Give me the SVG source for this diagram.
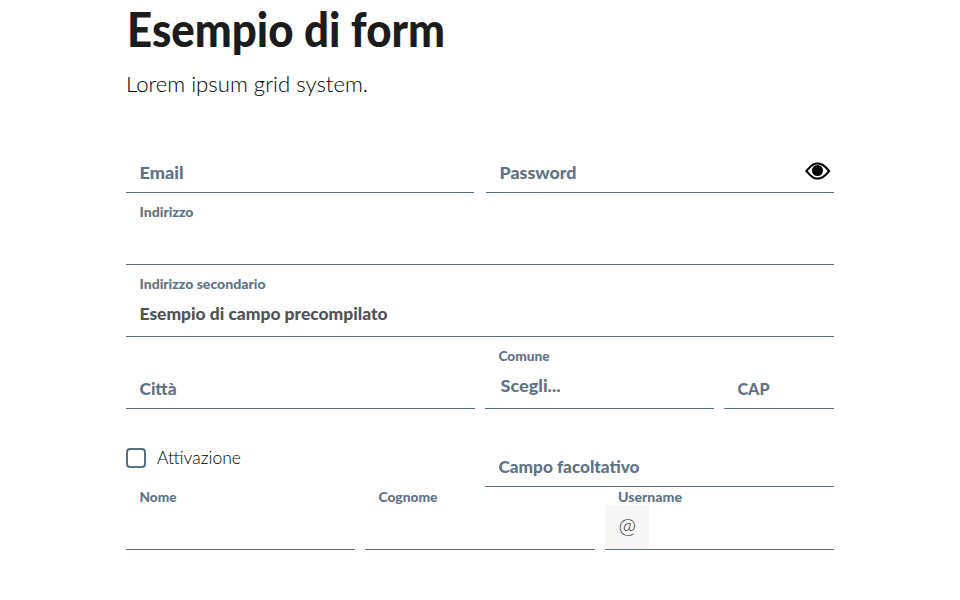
<svg xmlns="http://www.w3.org/2000/svg" width="960" height="600" viewBox="0 0 960 600">
<style>
text{font-family:Lato,"Open Sans",sans-serif}
.t{font-weight:900;font-size:47px;fill:#1c1c1c}
.s{font-weight:300;font-size:22px;fill:#000}
.l{font-weight:900;font-size:17px;fill:#5f7386}
.m{font-weight:900;font-size:14px;fill:#5f7386}
.v{font-weight:900;font-size:17px;fill:#4f5459}
.u{stroke:#5b6f82;stroke-width:1;fill:none}
</style>
<rect width="960" height="600" fill="#fff"/>
<g id="heading">
<text class="t" x="127" y="47" textLength="318" lengthAdjust="spacingAndGlyphs">Esempio di form</text>
<text class="s" x="126" y="92" textLength="242" lengthAdjust="spacingAndGlyphs">Lorem ipsum grid system.</text>
</g>
<g id="email"><text class="l" x="139.500" y="179" textLength="44" lengthAdjust="spacingAndGlyphs">Email</text><line class="u" x1="126" y1="192.500" x2="474" y2="192.500"/></g>
<g id="password"><text class="l" x="499.500" y="179" textLength="77" lengthAdjust="spacingAndGlyphs">Password</text><line class="u" x1="486" y1="192.500" x2="834" y2="192.500"/>
<path fill="#000" fill-rule="evenodd" d="M805 171C810 165 813 162.500 817.500 162.500C822 162.500 826 165 830.500 171C826 177 822 179.500 817.500 179.500C813 179.500 810 177 805 171ZM807.800 171C811.500 175.500 814 177.600 817.500 177.600C821 177.600 824 175.500 827.700 171C824 166.500 821 164.400 817.500 164.400C814 164.400 811.500 166.500 807.800 171Z"/><circle cx="817.500" cy="170.500" r="5.500" fill="#000"/></g>
<g id="indirizzo"><text class="m" x="139.500" y="217" textLength="54" lengthAdjust="spacingAndGlyphs">Indirizzo</text><line class="u" x1="126" y1="264.500" x2="834" y2="264.500"/></g>
<g id="indirizzo-secondario"><text class="m" x="139.500" y="289" textLength="126" lengthAdjust="spacingAndGlyphs">Indirizzo secondario</text><text class="v" x="139.500" y="320" textLength="248" lengthAdjust="spacingAndGlyphs">Esempio di campo precompilato</text><line class="u" x1="126" y1="336.500" x2="834" y2="336.500"/></g>
<g id="citta"><text class="l" x="139.500" y="395" textLength="37" lengthAdjust="spacingAndGlyphs">Città</text><line class="u" x1="126" y1="408.500" x2="475" y2="408.500"/></g>
<g id="comune"><text class="m" x="498.500" y="361" textLength="51" lengthAdjust="spacingAndGlyphs">Comune</text><text class="l" x="500.500" y="392" textLength="60" lengthAdjust="spacingAndGlyphs">Scegli...</text><line class="u" x1="485" y1="408.500" x2="714" y2="408.500"/></g>
<g id="cap"><text class="l" x="737.500" y="395" textLength="32" lengthAdjust="spacingAndGlyphs">CAP</text><line class="u" x1="724" y1="408.500" x2="834" y2="408.500"/></g>
<g id="attivazione"><rect x="127" y="449" width="18" height="18" rx="3" fill="none" stroke="#5b6f82" stroke-width="2"/><text class="s" style="font-size:18px" x="157" y="464" textLength="84" lengthAdjust="spacingAndGlyphs">Attivazione</text></g>
<g id="campo-facoltativo"><text class="l" x="498.500" y="473" textLength="141" lengthAdjust="spacingAndGlyphs">Campo facoltativo</text><line class="u" x1="485" y1="486.500" x2="834" y2="486.500"/></g>
<g id="nome"><text class="m" x="139.500" y="502" textLength="37" lengthAdjust="spacingAndGlyphs">Nome</text><line class="u" x1="126" y1="549.500" x2="355" y2="549.500"/></g>
<g id="cognome"><text class="m" x="378.500" y="502" textLength="59" lengthAdjust="spacingAndGlyphs">Cognome</text><line class="u" x1="365" y1="549.500" x2="595" y2="549.500"/></g>
<g id="username"><rect x="605" y="505" width="44" height="44" fill="#f7f7f7"/><text class="m" x="618" y="502" textLength="64" lengthAdjust="spacingAndGlyphs">Username</text><text x="618.500" y="533" font-size="21" font-weight="300" fill="#333" textLength="17.500" lengthAdjust="spacingAndGlyphs">@</text><line class="u" x1="605" y1="549.500" x2="834" y2="549.500"/></g>
</svg>
